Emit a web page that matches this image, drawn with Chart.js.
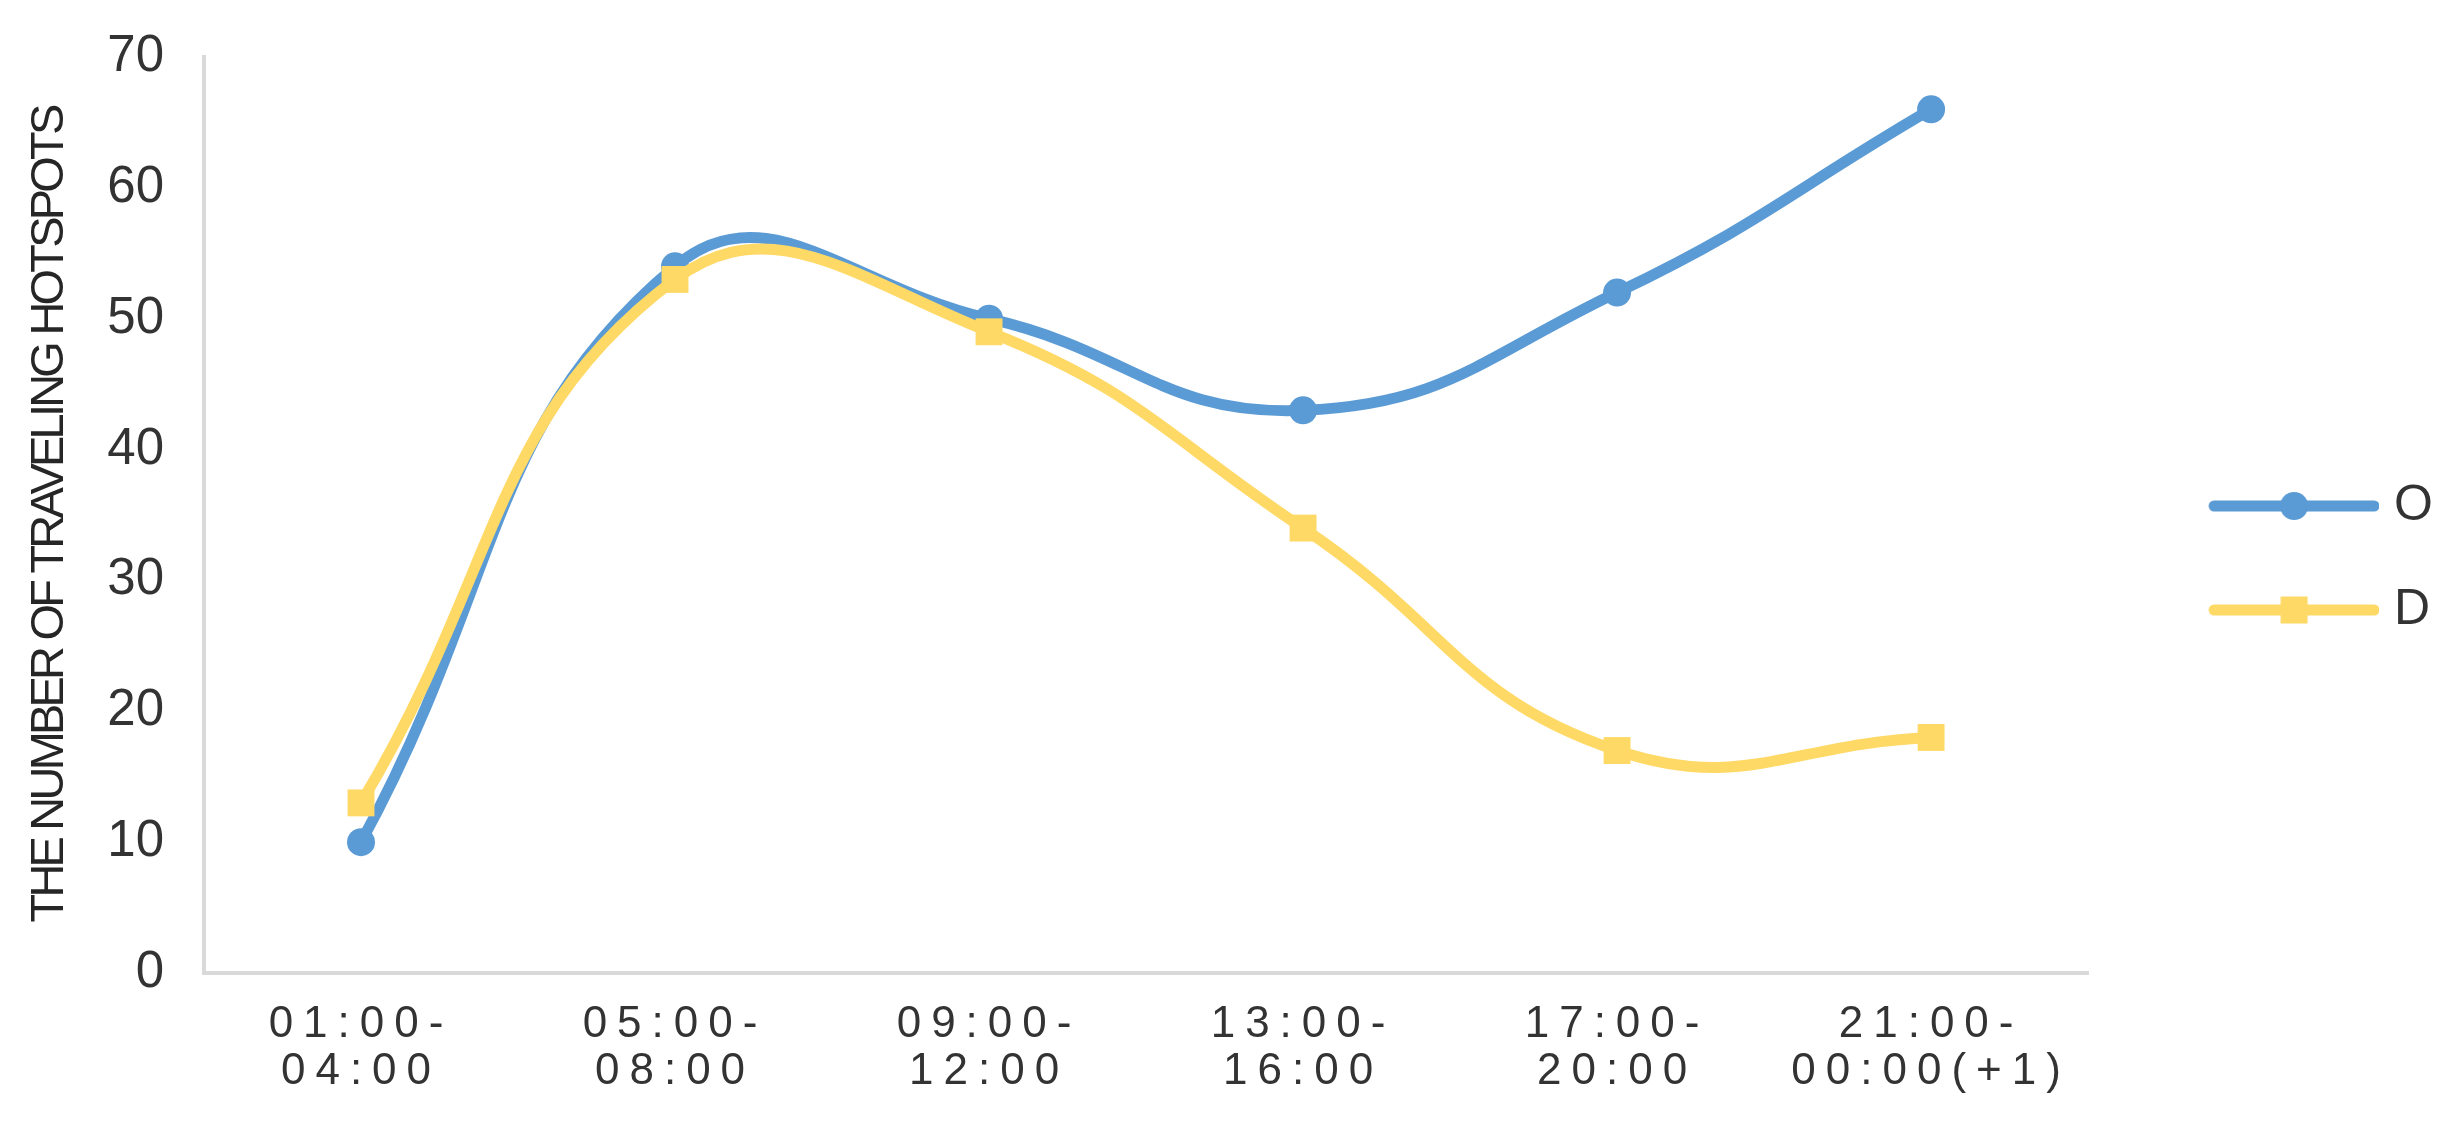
<!DOCTYPE html>
<html><head><meta charset="utf-8">
<script src="https://cdn.jsdelivr.net/npm/chart.js@4.4.1/dist/chart.umd.min.js"></script>
<style>html,body{margin:0;padding:0;background:#fff;overflow:hidden}</style>
</head><body>
<canvas id="c" width="2457" height="1122"></canvas>
<script>
// ---- data ----
const categories = [["01:00-","04:00"],["05:00-","08:00"],["09:00-","12:00"],["13:00-","16:00"],["17:00-","20:00"],["21:00-","00:00(+1)"]];
const seriesNames = ["O","D"];
const seriesO = [10,54,50,43,52,66];
const seriesD = [13,53,49,34,17,18];
const yTicks = [0,10,20,30,40,50,60,70];
const yTitle = "THE NUMBER OF TRAVELING HOTSPOTS";

// ---- styles ----
const BLUE = '#5B9BD5', YELLOW = '#FFD966', TEXT = '#333333', AXIS = '#D9D9D9';

function hasFont(name){
  const ctx=document.createElement('canvas').getContext('2d');
  const s='THE NUMBER OF TRAVELING HOTSPOTS';
  ctx.font='40px monospace'; const a=ctx.measureText(s).width;
  ctx.font='40px "'+name+'", monospace'; const b=ctx.measureText(s).width;
  return Math.abs(a-b)>0.5;
}
const narrow = hasFont('Liberation Sans Narrow');
const titleFont = narrow ? {family:"'Liberation Sans Narrow'", size:50} : {family:"'Liberation Sans'", size:47};
const titleSpacing = narrow ? '0px' : '-3.8px';

// letter spacing for x tick labels (no clipping of the two-line labels) and y title
const origLabels = Chart.CategoryScale.prototype.drawLabels;
Chart.CategoryScale.prototype._computeLabelArea = function(){ return undefined; };
Chart.CategoryScale.prototype.drawLabels = function(area){
  const ctx=this.ctx; ctx.save(); ctx.letterSpacing='10px'; origLabels.call(this, area); ctx.restore();
};
const origTitle = Chart.LinearScale.prototype.drawTitle;
Chart.LinearScale.prototype.drawTitle = function(area){
  const ctx=this.ctx; ctx.save(); ctx.letterSpacing=titleSpacing; origTitle.call(this, area); ctx.restore();
};

function legendIcon(color, shape){
  const c=document.createElement('canvas'); c.width=247; c.height=44;
  const g=c.getContext('2d');
  g.strokeStyle=color; g.lineWidth=11; g.lineCap='round';
  g.beginPath(); g.moveTo(82,22); g.lineTo(242,22); g.stroke();
  g.fillStyle=color;
  if(shape==='circle'){ g.beginPath(); g.arc(162,22,14,0,Math.PI*2); g.fill(); }
  else { g.fillRect(162-13.5,22-13.5,27,27); }
  return c;
}
const icons = [legendIcon(BLUE,'circle'), legendIcon(YELLOW,'rect')];

new Chart(document.getElementById('c'), {
  type:'line',
  data:{
    labels: categories,
    datasets:[
      {label:seriesNames[0], data:seriesO, borderColor:BLUE, backgroundColor:BLUE, borderWidth:11,
       pointStyle:'circle', pointRadius:14, pointHoverRadius:14, pointBorderWidth:0, tension:0.45, order:1, borderCapStyle:'round'},
      {label:seriesNames[1], data:seriesD, borderColor:YELLOW, backgroundColor:YELLOW, borderWidth:11,
       pointStyle:'rect', pointRadius:19, pointHoverRadius:19, pointBorderWidth:0, tension:0.45, order:0, borderCapStyle:'round'}
    ]
  },
  options:{
    responsive:false, animation:false, devicePixelRatio:1,
    layout:{padding:{top:57,left:0,right:14,bottom:63}},
    plugins:{
      tooltip:{enabled:false},
      legend:{
        position:'right', align:'center',
        labels:{
          usePointStyle:true, pointStyleWidth:227, padding:54, color:TEXT,
          font:{family:"'Liberation Sans'", size:50},
          generateLabels(chart){
            return chart.data.datasets.map((ds,i)=>({text:ds.label, pointStyle:icons[i], fillStyle:ds.borderColor,
              strokeStyle:ds.borderColor, lineWidth:0, hidden:false, datasetIndex:i, fontColor:TEXT}));
          }
        }
      }
    },
    scales:{
      x:{
        offset:true,
        grid:{display:false, drawTicks:false},
        border:{display:true, color:AXIS, width:4},
        ticks:{padding:28, color:TEXT, maxRotation:0, autoSkip:false,
               font:{family:"'Liberation Sans'", size:44, lineHeight:1.07}},
        afterFit(s){ s.height = 86; }
      },
      y:{
        min:0, max:70,
        grid:{display:false, drawTicks:false},
        border:{display:true, color:AXIS, width:4},
        afterBuildTicks(s){ s.ticks = yTicks.map(v=>({value:v})); },
        ticks:{padding:40, color:TEXT, font:{family:"'Liberation Sans'", size:51}},
        title:{display:true, text:yTitle, color:'#262626', font:titleFont, padding:{top:narrow?20:22,bottom:0}},
        afterFit(s){ s.width = 204; s.paddingTop = 0; s.paddingBottom = 0; }
      }
    }
  }
});
</script>
</body></html>
